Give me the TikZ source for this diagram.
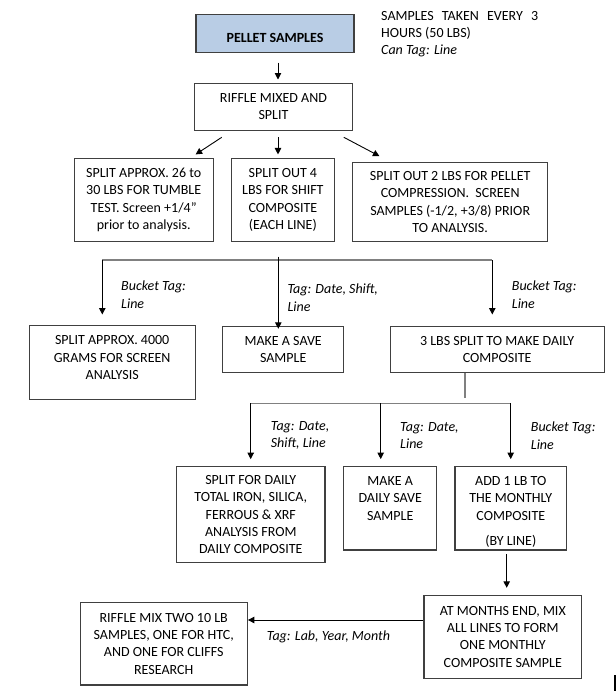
\documentclass[tikz,border=0pt]{standalone}
\usepackage{fontspec}
\setmainfont{Carlito}
\usetikzlibrary{arrows.meta,calc}
\definecolor{boxline}{HTML}{404040}
\definecolor{busgray}{HTML}{808080}
\definecolor{pelfill}{HTML}{B9CDE5}
\begin{document}
\begin{tikzpicture}[x=1pt,y=-1pt,
  every node/.style={font=\fontsize{14pt}{17.3pt}\selectfont},
  box/.style={draw=boxline,line width=1.1pt,align=center,inner sep=1pt,fill=white},
  lbl/.style={align=left,inner sep=0pt,anchor=west,font=\fontsize{14pt}{17.6pt}\selectfont\itshape},
  arr/.style={line width=0.9pt,-{Triangle[length=6.5pt,width=6.5pt]}},
  bus/.style={draw=busgray,line width=1.4pt}]
\useasboundingbox (0,0) rectangle (616,691);
% boxes
\node[box,fill=pelfill,minimum width=158pt,minimum height=38pt,text height=17.5pt,text depth=0pt,font=\fontsize{14pt}{17.3pt}\selectfont\bfseries] (pel) at (275,33.3) {PELLET SAMPLES};
\node[box,minimum width=158.4pt,minimum height=46.7pt] (rif) at (273.5,106.7) {RIFFLE MIXED AND\\SPLIT};
\node[box,minimum width=139.3pt,minimum height=83.4pt] (a) at (143.7,200) {SPLIT APPROX. 26 to\\30 LBS FOR TUMBLE\\TEST. Screen +1/4”\\prior to analysis.};
\node[box,minimum width=102.3pt,minimum height=83.4pt] (b) at (282.9,200) {SPLIT OUT 4\\LBS FOR SHIFT\\COMPOSITE\\(EACH LINE)};
\node[box,minimum width=195pt,minimum height=79.4pt] (c) at (450.2,202) {SPLIT OUT 2 LBS FOR PELLET\\COMPRESSION.\ \ SCREEN\\SAMPLES (-1/2, +3/8) PRIOR\\TO ANALYSIS.};
\node[box,minimum width=165.7pt,minimum height=74.3pt] (d) at (112.2,362.2) {SPLIT APPROX. 4000\\GRAMS FOR SCREEN\\ANALYSIS\rule[-9pt]{0pt}{9pt}};
\node[box,minimum width=121pt,minimum height=46.3pt] (e) at (283.2,349.2) {MAKE A SAVE\\SAMPLE};
\node[box,minimum width=213.7pt,minimum height=46.3pt] (f) at (497.2,349.2) {3 LBS SPLIT TO MAKE DAILY\\COMPOSITE};
\node[box,minimum width=148.3pt,minimum height=96pt] (g) at (250.8,514.7) {SPLIT FOR DAILY\\TOTAL IRON, SILICA,\\FERROUS \& XRF\\ANALYSIS FROM\\DAILY COMPOSITE};
\node[box,minimum width=93pt,minimum height=83.3pt] (h) at (390.2,508.3) {MAKE A\\DAILY SAVE\\SAMPLE\rule[-20pt]{0pt}{20pt}};
\node[box,minimum width=111.7pt,minimum height=83.3pt] (i) at (510.8,508.3) {\rule{0pt}{17pt}ADD 1 LB TO\\THE MONTHLY\\COMPOSITE\\[8.4pt](BY LINE)};
\node[box,minimum width=157.7pt,minimum height=83.3pt] (j) at (502.8,636.7) {AT MONTHS END, MIX\\ALL LINES TO FORM\\ONE MONTHLY\\COMPOSITE SAMPLE};
\node[box,minimum width=167.3pt,minimum height=82.3pt] (k) at (163.7,643.8) {RIFFLE MIX TWO 10 LB\\SAMPLES, ONE FOR HTC,\\AND ONE FOR CLIFFS\\RESEARCH};
% side note
\node[align=left,inner sep=0pt,anchor=west] (note) at (381,34.2) {\makebox[157pt][s]{SAMPLES TAKEN EVERY 3}\\HOURS (50 LBS)\\\textit{Can Tag: Line}};
% labels
\node[lbl] (l1) at (121,294.5) {Bucket Tag:\\Line};
\node[lbl] (l2) at (287.3,297.5) {Tag: Date, Shift,\\Line};
\node[lbl] (l3) at (511.7,294.5) {Bucket Tag:\\Line};
\node[lbl] (l4) at (270.7,435.5) {Tag: Date,\\Shift, Line};
\node[lbl] (l5) at (400,435.5) {Tag: Date,\\Line};
\node[lbl] (l6) at (530.7,435.5) {Bucket Tag:\\Line};
\node[lbl] (l7) at (266.7,636.7) {Tag: Lab, Year, Month};
% top arrows
\draw[arr] ($(pel.south)+(3,9.7)$) -- ($(rif.north -| pel.south)+(3,-3.3)$);
\draw[arr] ($(rif.south west)+(28,6.7)$) -- ($(a.north east)+(-18.3,-3.3)$);
\draw[arr] ($(rif.south)+(4.5,6.7)$) -- ($(b.north -| rif.south)+(4.5,-3.3)$);
\draw[arr] ($(rif.south east)+(-9.4,6.7)$) -- ($(c.north west)+(27.3,-5.6)$);
% first distribution
\coordinate (j1l) at (102.3,260);
\coordinate (j1r) at (492.3,260);
\coordinate (j1m) at (278.3,256.7);
\draw[bus] (j1l) -- (j1r);
\draw[arr] (j1l) -- ($(d.north -| j1l)+(0,-10)$);
\draw[arr] (j1r) -- ($(f.north -| j1r)+(0,-11)$);
\draw[arr] (j1m) -- ($(e.north -| j1m)+(0,3.3)$);
% second distribution
\coordinate (j2s) at (465,398.3);
\coordinate (j2l) at (250.7,403.3);
\coordinate (j2m) at (380.7,403.3);
\coordinate (j2r) at (510.7,403.3);
\draw[bus] (f.south -| j2s) -- (j2s);
\draw[bus] (j2l) -- (j2r);
\draw[arr] (j2l) -- ($(g.north -| j2l)+(0,-7)$);
\draw[arr] (j2m) -- ($(h.north -| j2m)+(0,-7)$);
\draw[arr] (j2r) -- ($(i.north -| j2r)+(0,-7)$);
% monthly
\draw[arr] ($(i.south)+(-4.1,3.3)$) -- ($(j.north -| i.south)+(-4.1,-6.7)$);
\draw[arr] ($(j.west)+(0,-16.7)$) -- ($(k.east |- j.west)+(0,-16.7)$);
% edge mark
\coordinate (m1) at (614.8,675);
\coordinate (m2) at (614.8,691);
\draw[line width=1.5pt] (m1) -- (m2);
\end{tikzpicture}
\end{document}
